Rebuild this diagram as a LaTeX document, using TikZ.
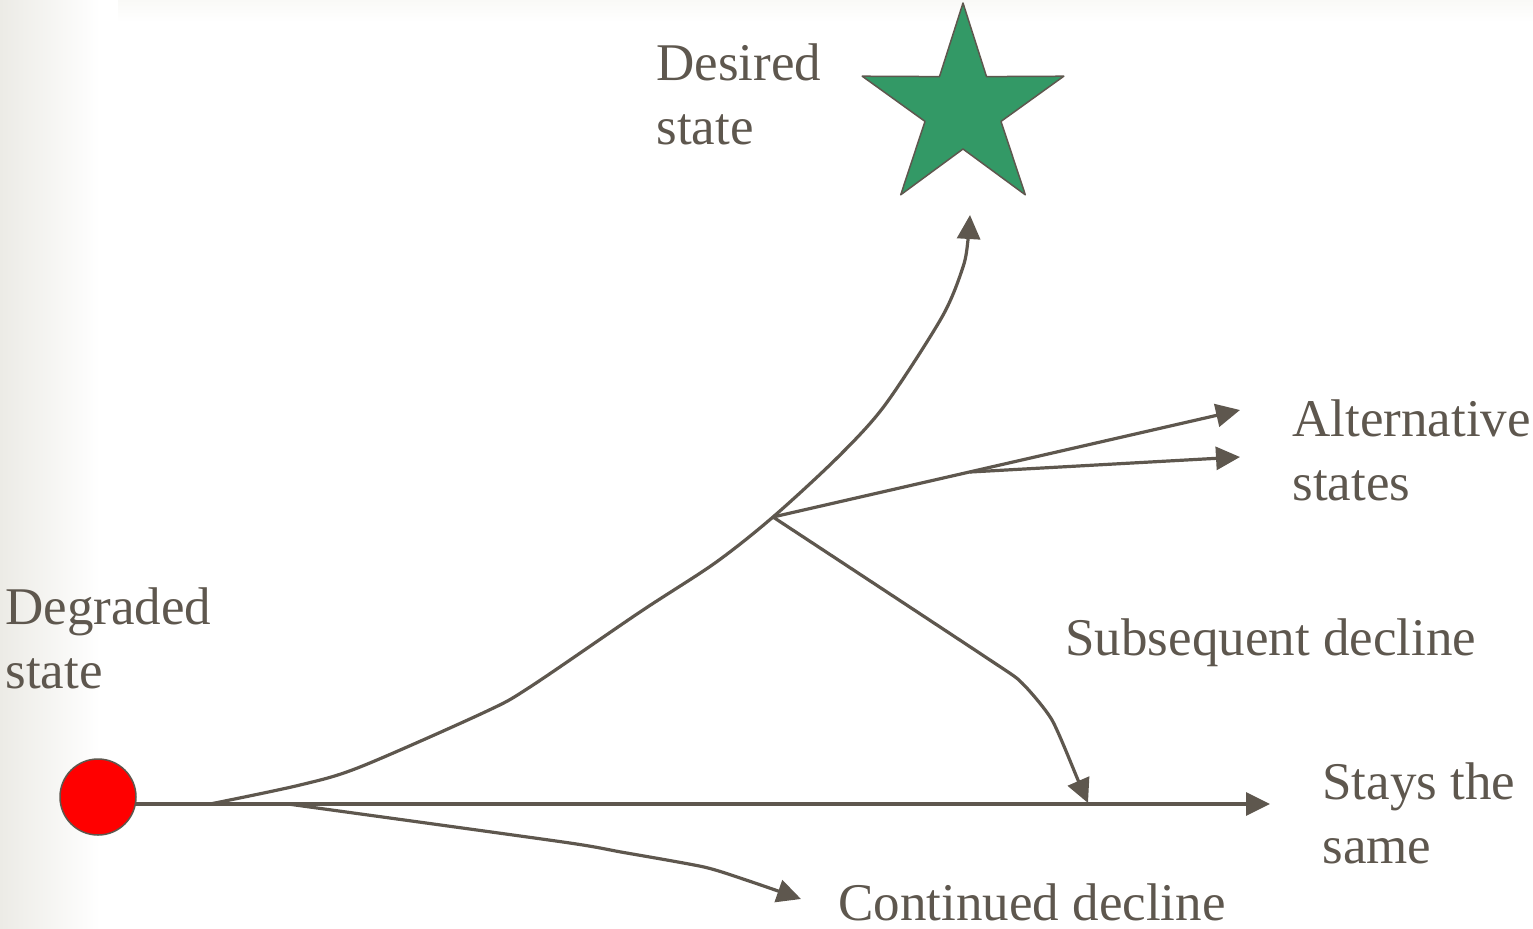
\documentclass[tikz,border=0pt]{standalone}
\usepackage{fontspec}
\setmainfont{Liberation Serif}
\usetikzlibrary{arrows.meta}
\definecolor{ink}{HTML}{5E574E}
\definecolor{stargreen}{HTML}{339966}
\definecolor{bgl}{HTML}{ECEBE6}
\definecolor{bgt}{HTML}{F9F9F7}
\begin{document}
\begin{tikzpicture}[x=0.5pt,y=-0.5pt, line join=round,
  conn/.style={draw=ink, line width=1.6pt, -{Triangle[length=12pt,width=11.5pt]}},
  lbl/.style={text=ink, font=\fontsize{26.5}{32}\selectfont, inner sep=0pt, anchor=base west, align=left},
  dot/.style={circle, fill=red, draw=ink, line width=0.75pt, minimum size=38pt, inner sep=0pt},
  starshape/.style={fill=stargreen, draw=ink, line width=0.75pt}]
\useasboundingbox (0,0) rectangle (1533,928);
\shade[top color=bgt, bottom color=white, draw=none] (118,0) rectangle (1533,22);
\shade[left color=bgl, right color=white, draw=none] (0,0) rectangle (100,928);

% coordinates
\coordinate (s0) at (98,804);
\coordinate (j0) at (210,804);
\coordinate (j1) at (288,804);
\coordinate (j2) at (773,517);
\coordinate (j3) at (970,472);
\coordinate (tDes) at (970,215);
\coordinate (tAlt1) at (1240,410);
\coordinate (tAlt2) at (1240,457);
\coordinate (tSame) at (1270,804);
\coordinate (tSub) at (1088,803);
\coordinate (tCont) at (801,899);

% star
\draw[starshape] (963,3) -- (986.5,76.6) -- (1063.8,76.2) -- (1001,121.4) -- (1025.3,194.8)
  -- (963,149) -- (900.7,194.8) -- (925,121.4) -- (862.2,76.2) -- (939.5,76.6) -- cycle;

% connectors
\draw[conn] (s0) -- (tSame);
\draw[conn] plot[smooth, tension=0.5] coordinates {(j0) (300,785) (360,767) (485,712) (530,687)
  (640,612) (715,563) (j2) (838,457) (885,405) (942,317) (963,267) (968,240) (tDes)};
\draw[conn] (j2) -- (tAlt1);
\draw[conn] (j3) -- (tAlt2);
\draw[conn] plot[smooth, tension=0.4] coordinates {(j2) (990,660) (1022,683) (1052,720) (1078,780) (tSub)};
\draw[conn] plot[smooth, tension=0.4] coordinates {(j1) (563,842) (621,852) (704,867) (749,881) (tCont)};

% degraded state dot
\node[dot] (deg) at (98,797) {};

% labels (base anchor = baseline of the last line)
\node[lbl] (tdes) at (656,144) {Desired\\state};
\node[lbl] (tdeg) at (5,688) {Degraded\\state};
\node[lbl] (talt) at (1292,500) {Alternative\\states};
\node[lbl] (tsub) at (1065,655) {Subsequent decline};
\node[lbl] (tsame) at (1322,863) {Stays the\\same};
\node[lbl] (tcont) at (838,920) {Continued decline};
\end{tikzpicture}
\end{document}
